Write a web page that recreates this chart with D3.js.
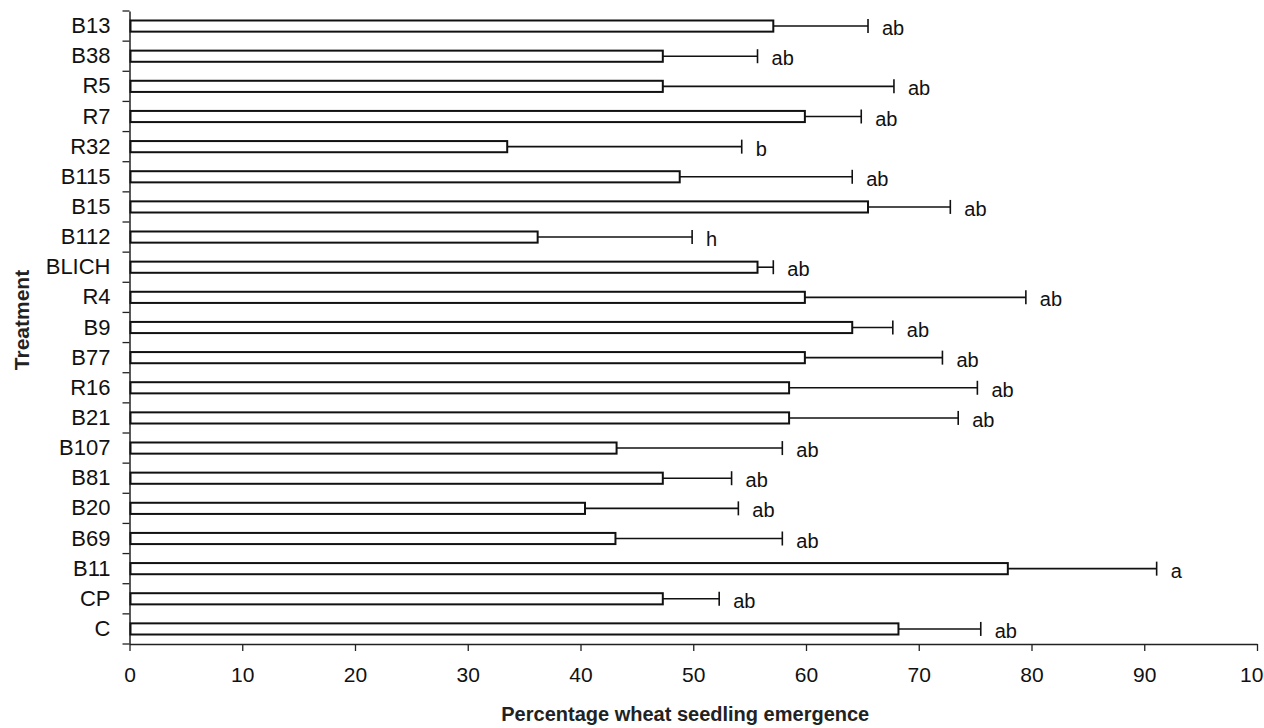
<!DOCTYPE html>
<html>
<head>
<meta charset="utf-8">
<script src="https://cdn.jsdelivr.net/npm/d3@7"></script>
<style>
  body { margin: 0; background: #fff; }
  svg { display: block; font-family: "Liberation Sans", Arial, sans-serif; }
</style>
</head>
<body>
<svg width="1264" height="728"></svg>
<script>
// treatments, top to bottom as in the figure
var treatments = ["B13", "B38", "R5", "R7", "R32", "B115", "B15", "B112", "BLICH", "R4",
  "B9", "B77", "R16", "B21", "B107", "B81", "B20", "B69", "B11", "CP", "C"];
// mean % emergence
var emergence = [57.1, 47.3, 47.3, 59.9, 33.5, 48.8, 65.5, 36.2, 55.7, 59.9,
  64.1, 59.9, 58.5, 58.5, 43.2, 47.3, 40.4, 43.1, 77.9, 47.3, 68.2];
// error bar length (one sided)
var errors = [8.4, 8.4, 20.5, 5.0, 20.8, 15.3, 7.3, 13.7, 1.4, 19.6,
  3.6, 12.2, 16.7, 15.0, 14.7, 6.1, 13.6, 14.8, 13.2, 5.0, 7.3];
// significance letters
var letters = ["ab", "ab", "ab", "ab", "b", "ab", "ab", "h", "ab", "ab",
  "ab", "ab", "ab", "ab", "ab", "ab", "ab", "ab", "a", "ab", "ab"];
var xTicks = [0, 10, 20, 30, 40, 50, 60, 70, 80, 90, 100];

(function() {
  'use strict';
  var svg = d3.select("svg");
  var left = 129.5, right = 1257, top = 11, bottom = 644;

  var x = d3.scaleLinear()
    .domain([0, 100])
    .range([left, right]);

  var pad = 0.63;
  var y = d3.scaleBand()
    .domain(treatments)
    .range([top, bottom])
    .paddingInner(pad)
    .paddingOuter(pad / 2);

  var rows = treatments.map(function(t, i) {
    return { name: t, mean: emergence[i], err: errors[i], letter: letters[i] };
  });
  var mid = function(d) { return y(d.name) + y.bandwidth() / 2; };

  // x axis
  var gx = svg.append("g")
    .attr("transform", "translate(0," + bottom + ")")
    .call(d3.axisBottom(x)
      .tickValues(xTicks)
      .tickSize(7)
      .tickPadding(16)
      .tickSizeOuter(0));
  gx.select(".domain").attr("stroke", "#222").attr("stroke-width", 1.5);
  gx.selectAll(".tick line").attr("stroke", "#222").attr("stroke-width", 1.3);
  gx.selectAll(".tick text")
    .attr("font-size", 21)
    .attr("font-family", "Liberation Sans, Arial, sans-serif")
    .attr("fill", "#111");

  // y axis: labels at band centres, ticks between bands
  var gy = svg.append("g")
    .attr("transform", "translate(" + left + ",0)")
    .call(d3.axisLeft(y).tickSize(0).tickPadding(19).tickSizeOuter(0));
  gy.select(".domain").attr("stroke", "#222").attr("stroke-width", 1.5);
  gy.selectAll(".tick text")
    .attr("font-size", 22)
    .attr("font-family", "Liberation Sans, Arial, sans-serif")
    .attr("fill", "#111");

  var edges = treatments.map(function(t) { return y(t) + y.bandwidth() / 2 - y.step() / 2; });
  edges.push(bottom);
  svg.append("g").selectAll("line")
    .data(edges)
    .enter().append("line")
      .attr("x1", left - 7).attr("x2", left)
      .attr("y1", function(d) { return d; })
      .attr("y2", function(d) { return d; })
      .attr("stroke", "#222")
      .attr("stroke-width", 1.3);

  // error bars
  var eb = svg.append("g").attr("stroke", "#111").attr("stroke-width", 1.6);
  eb.selectAll("line.stem")
    .data(rows)
    .enter().append("line")
      .attr("class", "stem")
      .attr("x1", function(d) { return x(d.mean); })
      .attr("x2", function(d) { return x(d.mean + d.err); })
      .attr("y1", mid)
      .attr("y2", mid);
  eb.selectAll("line.cap")
    .data(rows)
    .enter().append("line")
      .attr("class", "cap")
      .attr("x1", function(d) { return x(d.mean + d.err); })
      .attr("x2", function(d) { return x(d.mean + d.err); })
      .attr("y1", function(d) { return mid(d) - 7; })
      .attr("y2", function(d) { return mid(d) + 7; });

  // bars
  svg.append("g").selectAll("rect")
    .data(rows)
    .enter().append("rect")
      .attr("x", x(0) + 1)
      .attr("y", function(d) { return y(d.name); })
      .attr("width", function(d) { return x(d.mean) - x(0) - 1; })
      .attr("height", y.bandwidth())
      .attr("fill", "#fff")
      .attr("stroke", "#111")
      .attr("stroke-width", 2);

  // letters
  svg.append("g").selectAll("text")
    .data(rows)
    .enter().append("text")
      .attr("x", function(d) { return x(d.mean + d.err) + 14; })
      .attr("y", function(d) { return mid(d) + 9; })
      .attr("font-size", 20)
      .attr("fill", "#111")
      .text(function(d) { return d.letter; });

  // axis titles
  svg.append("text")
    .attr("x", (left + right) / 2 - 8)
    .attr("y", 721)
    .attr("text-anchor", "middle")
    .attr("font-size", 20)
    .attr("font-weight", "bold")
    .attr("fill", "#222")
    .text("Percentage wheat seedling emergence");

  svg.append("text")
    .attr("transform", "translate(29,320) rotate(-90)")
    .attr("text-anchor", "middle")
    .attr("font-size", 21)
    .attr("font-weight", "bold")
    .attr("fill", "#222")
    .text("Treatment");
}());
</script>
</body>
</html>
